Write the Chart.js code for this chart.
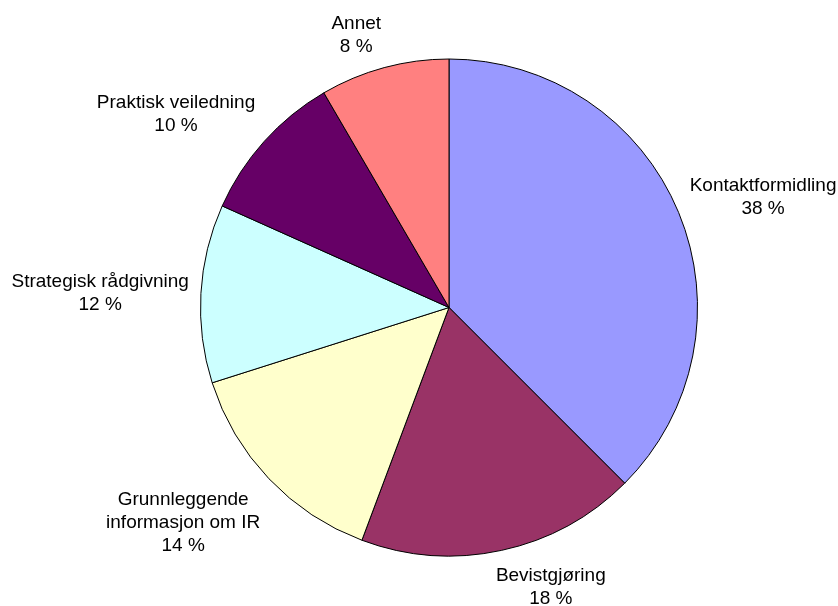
<!DOCTYPE html>
<html>
<head>
<meta charset="utf-8">
<script src="https://cdn.jsdelivr.net/npm/chart.js@4.4.0/dist/chart.umd.min.js"></script>
<style>
  body { margin: 0; background: #fff; }
  #wrap { width: 838px; height: 606px; }
</style>
</head>
<body>
<div id="wrap"><canvas id="pie" width="838" height="606"></canvas></div>
<script>
const categories = [
    "Kontaktformidling",
    "Bevistgjøring",
    ["Grunnleggende", "informasjon om IR"],
    "Strategisk rådgivning",
    "Praktisk veiledning",
    "Annet"
];
const shares = [37.5, 18.2, 14.4, 11.6, 9.9, 8.4];
const sliceColors = ["#9999FF", "#993366", "#FFFFCC", "#CCFFFF", "#660066", "#FF8080"];

const FONT = '19px "Liberation Sans", Arial, sans-serif';
const LINE_H = 23;

const clamp = (v) => Math.max(-1, Math.min(1, v));

// labels sit outside the pie, pushed away from the slice's middle
const outsideLabels = {
    id: 'outsideLabels',
    afterDatasetsDraw(chart) {
        const ctx = chart.ctx;
        const meta = chart.getDatasetMeta(0);
        ctx.save();
        ctx.font = FONT;
        ctx.fillStyle = "#000";
        ctx.textAlign = "center";
        ctx.textBaseline = "middle";
        meta.data.forEach((arc, i) => {
            const p = arc.getProps(['x', 'y', 'startAngle', 'endAngle', 'outerRadius'], true);
            const mid = (p.startAngle + p.endAngle) / 2;
            const dx = Math.cos(mid), dy = Math.sin(mid);
            const name = categories[i];
            const lines = (Array.isArray(name) ? name : [name]).concat(Math.round(shares[i]) + " %");
            const w = Math.max(...lines.map(l => ctx.measureText(l).width));
            const h = lines.length * LINE_H;
            const gap = 12;
            const ex = p.x + dx * (p.outerRadius + gap);
            const ey = p.y + dy * (p.outerRadius + gap);
            const cx = ex + clamp(dx * 4) * w / 2;
            const cy = ey + clamp(dy * 1.4) * h / 2 + 2;
            lines.forEach((l, k) => {
                ctx.fillText(l, cx, cy - h / 2 + LINE_H * (k + 0.5));
            });
        });
        ctx.restore();
    }
};

new Chart(document.getElementById("pie"), {
    type: 'pie',
    data: {
        labels: categories,
        datasets: [{
            data: shares,
            backgroundColor: sliceColors,
            borderColor: "#000",
            borderWidth: 1
        }]
    },
    options: {
        responsive: false,
        animation: false,
        layout: {
            padding: {left: 200, right: 140, top: 58, bottom: 49}
        },
        plugins: {
            legend: {display: false},
            tooltip: {enabled: false}
        }
    },
    plugins: [outsideLabels]
});
</script>
</body>
</html>
